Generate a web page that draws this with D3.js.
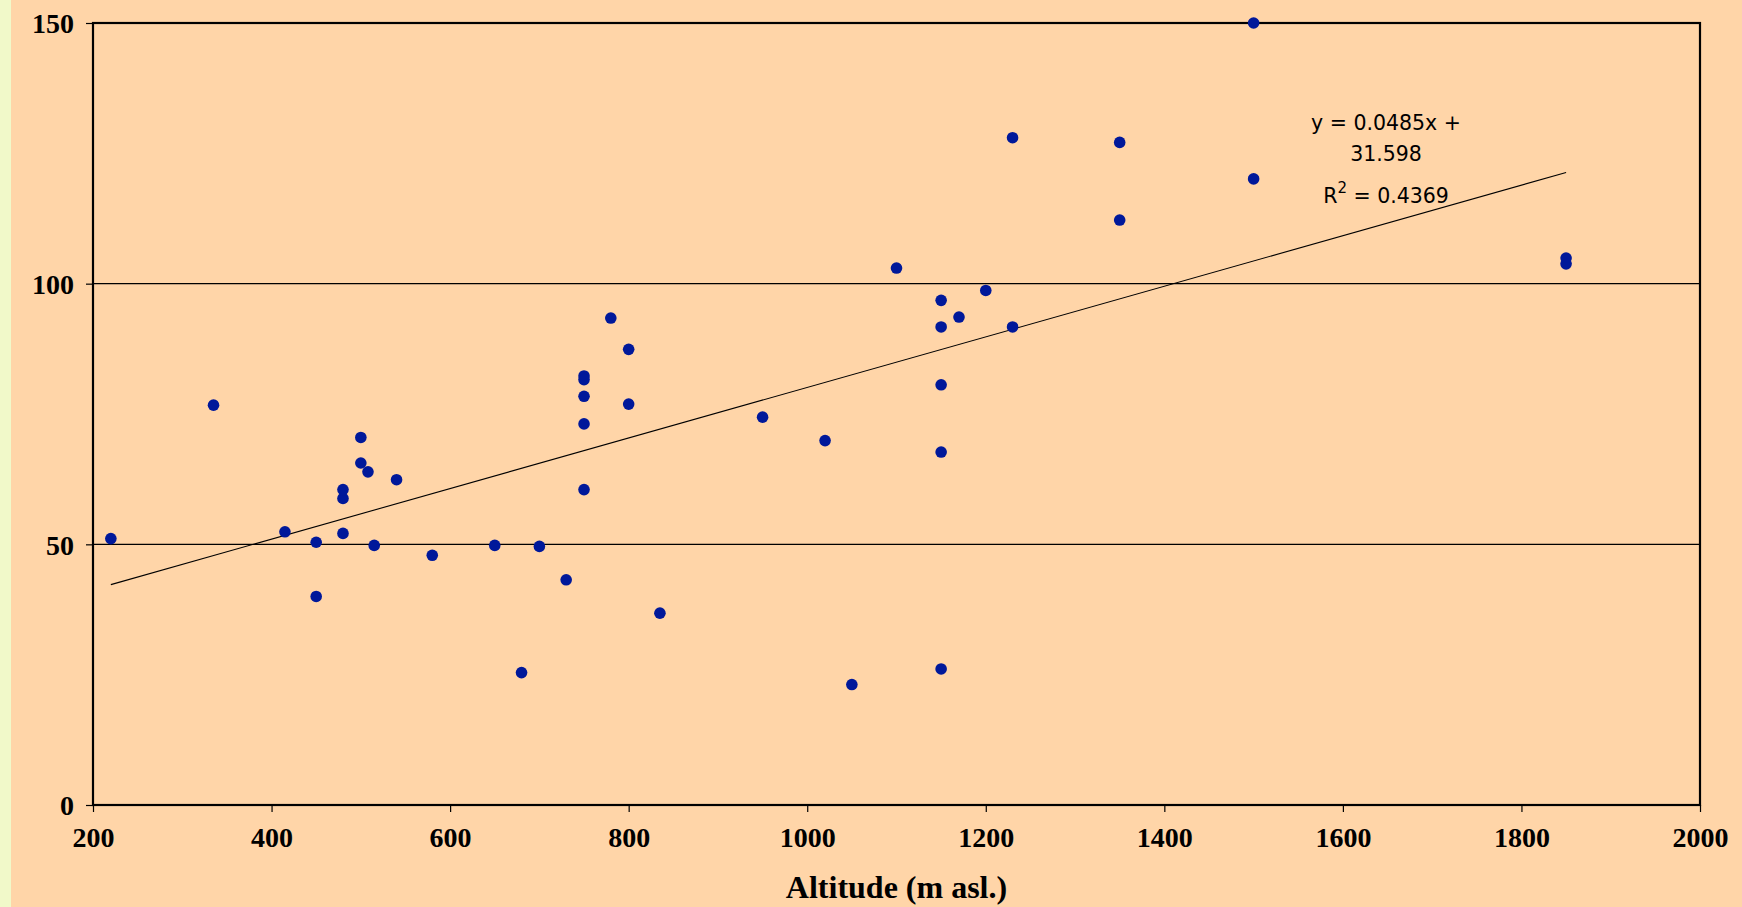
<!DOCTYPE html>
<html>
<head>
<meta charset="utf-8">
<script src="https://cdn.jsdelivr.net/npm/d3@7"></script>
<style>
  body { margin: 0; background: #ffd5a8; }
  svg { display: block; }
</style>
</head>
<body>
<div id="chart"></div>
<script>
// altitude (m asl.) and measured value for each site
var altitude = [220, 335, 415, 450, 450, 480, 480, 480, 500, 500, 508, 515, 540, 580,
    650, 680, 700, 730, 750, 750, 750, 750, 750, 780, 800, 800, 835, 950, 1020, 1050,
    1100, 1150, 1150, 1150, 1150, 1150, 1170, 1200, 1230, 1230, 1350, 1350, 1500, 1500,
    1850, 1850];
var values = [51.1, 76.7, 52.4, 50.4, 40.0, 52.1, 58.8, 60.5, 70.5, 65.6, 63.9, 49.8,
    62.4, 47.9, 49.8, 25.4, 49.6, 43.2, 82.3, 81.6, 78.4, 73.1, 60.5, 93.4, 87.4, 76.9,
    36.8, 74.4, 69.9, 23.1, 103.0, 96.8, 91.7, 80.6, 67.7, 26.1, 93.6, 98.7, 128.0, 91.7,
    127.1, 112.2, 150.0, 120.1, 104.9, 103.8];

var xTicks = [200, 400, 600, 800, 1000, 1200, 1400, 1600, 1800, 2000];
var yTicks = [0, 50, 100, 150];

// linear trendline as reported on the chart
var slope = 0.0485, intercept = 31.598;
var eqLines = ["y = 0.0485x +", "31.598"];
var r2Text = "0.4369";

var width = 1742, height = 907;
var plotL = 93, plotR = 1700, plotT = 23, plotB = 805;

var svg = d3.select("#chart")
    .append("svg")
    .attr("width", width)
    .attr("height", height);

svg.append("rect")
    .attr("width", width).attr("height", height)
    .style("fill", "#ffd5a8");
svg.append("rect")
    .attr("width", 11).attr("height", height)
    .style("fill", "#f1f9c9");

var x = d3.scaleLinear().domain([200, 2000]).range([plotL, plotR]);
var y = d3.scaleLinear().domain([0, 150]).range([plotB, plotT]);

// gridlines
svg.selectAll(".grid")
    .data(yTicks.filter(function(d) { return d > 0 && d < 150; }))
    .enter()
    .append("line")
    .attr("x1", plotL).attr("x2", plotR)
    .attr("y1", function(d) { return y(d); })
    .attr("y2", function(d) { return y(d); })
    .style("stroke", "#000")
    .style("stroke-width", 1.2);

// axes
var xAxis = svg.append("g")
    .attr("transform", "translate(0," + plotB + ")")
    .call(d3.axisBottom(x).tickValues(xTicks).tickFormat(d3.format("d"))
        .tickSize(7).tickPadding(8));
var yAxis = svg.append("g")
    .attr("transform", "translate(" + plotL + ",0)")
    .call(d3.axisLeft(y).tickValues(yTicks).tickFormat(d3.format("d"))
        .tickSize(7).tickPadding(12));

[xAxis, yAxis].forEach(function(a) {
    a.select(".domain").remove();
    a.selectAll("line").style("stroke", "#000").style("stroke-width", 1.2);
    a.selectAll("text")
        .style("font-family", "'Liberation Serif', 'Times New Roman', serif")
        .style("font-weight", "bold")
        .style("font-size", "28px")
        .style("fill", "#000");
});
xAxis.selectAll("text").attr("dy", "0.95em");
yAxis.selectAll("text").attr("dy", "0.35em");

// plot frame
svg.append("rect")
    .attr("x", plotL).attr("y", plotT)
    .attr("width", plotR - plotL).attr("height", plotB - plotT)
    .style("fill", "none")
    .style("stroke", "#000")
    .style("stroke-width", 2.2);

// trendline
var xs = d3.extent(altitude);
svg.append("line")
    .attr("x1", x(xs[0])).attr("y1", y(slope * xs[0] + intercept))
    .attr("x2", x(xs[1])).attr("y2", y(slope * xs[1] + intercept))
    .style("stroke", "#000")
    .style("stroke-width", 1.1);

// points
svg.selectAll(".dot")
    .data(altitude)
    .enter()
    .append("circle")
    .attr("cx", function(d) { return x(d); })
    .attr("cy", function(d, i) { return y(values[i]); })
    .attr("r", 5.8)
    .style("fill", "#00189a");

// equation label
var eq = svg.append("g")
    .style("font-family", "'DejaVu Sans', Verdana, sans-serif")
    .style("font-size", "20.5px")
    .style("fill", "#000")
    .attr("text-anchor", "middle");
eq.append("text").attr("x", 1386).attr("y", 130).text(eqLines[0]);
eq.append("text").attr("x", 1386).attr("y", 161).text(eqLines[1]);
var r2 = eq.append("text").attr("x", 1386).attr("y", 203);
r2.append("tspan").text("R");
r2.append("tspan").attr("dy", -10).style("font-size", "15px").text("2");
r2.append("tspan").attr("dy", 10).text(" = " + r2Text);

// axis title
svg.append("text")
    .attr("x", (plotL + plotR) / 2)
    .attr("y", 898)
    .attr("text-anchor", "middle")
    .style("font-family", "'Liberation Serif', 'Times New Roman', serif")
    .style("font-weight", "bold")
    .style("font-size", "32px")
    .text("Altitude (m asl.)");
</script>
</body>
</html>
